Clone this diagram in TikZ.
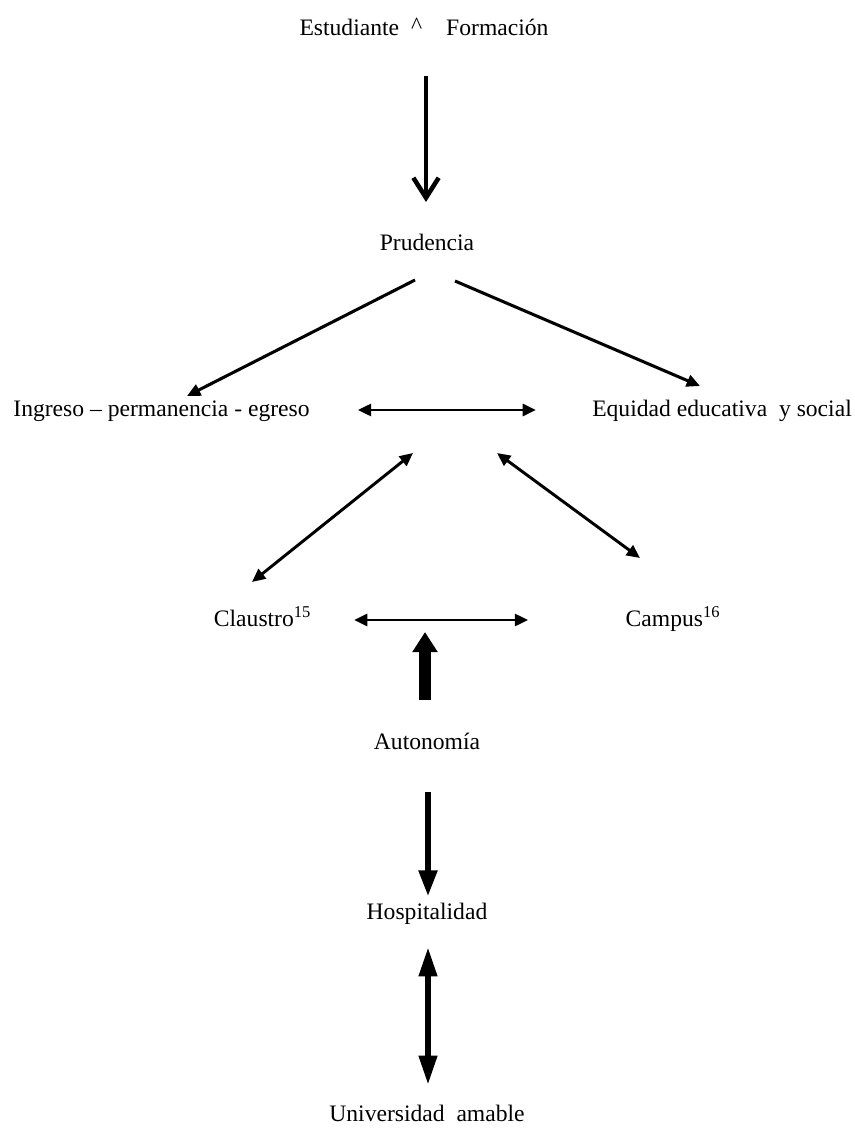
\documentclass[tikz,border=0pt]{standalone}
\usepackage{fontspec}
\setmainfont{Liberation Serif}
\usetikzlibrary{arrows.meta,calc}

\begin{document}
\begin{tikzpicture}[x=0.75pt,y=-0.75pt,
    every node/.style={inner sep=0pt,text height=13pt,text depth=4pt,font=\fontsize{17.7}{21}\selectfont},
    barb/.style={line width=3.4pt,-{Straight Barb[length=15pt,width=19pt]}},
    rama/.style={line width=2.3pt,-{Triangle[length=10pt,width=9pt]}},
    doble/.style={line width=2.2pt,{Triangle[length=10pt,width=9pt]}-{Triangle[length=10pt,width=9pt]}},
    gruesa/.style={line width=9pt,-{Triangle[length=15pt,width=18pt]}},
    media/.style={line width=5.2pt,-{Triangle[length=20pt,width=13pt]}},
    media2/.style={line width=4.5pt,{Triangle[length=22pt,width=13pt]}-{Triangle[length=22pt,width=13pt]}}]
    \useasboundingbox (0,0) rectangle (854,1130);

    \node (estudiante) at (424,30) {Estudiante\hspace{9pt}\raisebox{2pt}{\textasciicircum}\hspace{18pt}Formación};
    \node (prudencia) at (427,245) {Prudencia};
    \node (ingreso) at (161.5,410) {Ingreso – permanencia - egreso};
    \node (equidad) at (722,410) {Equidad educativa\ \ y social};
    \node (claustro) at (262.5,620) {Claustro\textsuperscript{15}};
    \node (campus) at (673,620) {Campus\textsuperscript{16}};
    \node (autonomia) at (427,743) {Autonomía};
    \node (hospitalidad) at (427,913) {Hospitalidad};
    \node (universidad) at (427,1115) {Universidad\ \ amable};
    \coordinate (cruceI) at (413,453);
    \coordinate (cruceD) at (497,453);

    \draw[barb] ($(estudiante)+(2,46)$) to ($(prudencia)+(-1,-43)$);
    \draw[rama] ($(prudencia)+(-12,35)$) to ($(ingreso)+(25.5,-14)$);
    \draw[rama] ($(prudencia)+(28,36)$) to ($(equidad)+(-22,-24)$);
    \draw[doble,shorten <=36pt,shorten >=42pt] (ingreso) to (equidad);
    \draw[doble] (cruceI) to ($(claustro)+(-10.5,-38)$);
    \draw[doble] (cruceD) to ($(campus)+(-33,-62)$);
    \draw[doble,shorten <=32pt,shorten >=73pt] (claustro) to (campus);
    \draw[gruesa] ($(autonomia)+(-2,-43)$) to ($(autonomia)+(-2,-111)$);
    \draw[media] ($(autonomia)+(1,49)$) to ($(hospitalidad)+(1,-16)$);
    \draw[media2] ($(hospitalidad)+(1,34)$) to ($(universidad)+(1,-30)$);
\end{tikzpicture}
\end{document}
